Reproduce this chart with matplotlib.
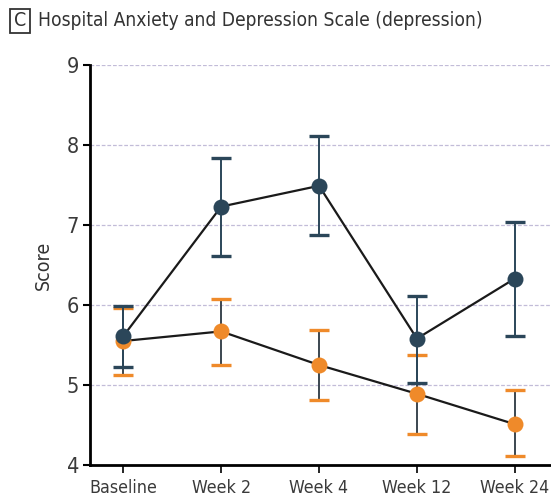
import matplotlib
matplotlib.use("Agg")
import matplotlib.pyplot as plt
from matplotlib import font_manager
from matplotlib.patches import Rectangle

categories = ["Baseline", "Week 2", "Week 4", "Week 12", "Week 24"]

dark_mean = [5.61, 7.23, 7.49, 5.58, 6.33]
dark_low = [5.22, 6.61, 6.87, 5.03, 5.61]
dark_high = [5.99, 7.84, 8.11, 6.11, 7.04]

orange_mean = [5.55, 5.67, 5.25, 4.89, 4.51]
orange_low = [5.13, 5.25, 4.81, 4.39, 4.11]
orange_high = [5.96, 6.07, 5.69, 5.38, 4.94]

y_ticks = [4, 5, 6, 7, 8, 9]

DARK = "#2b4659"
ORANGE = "#ef8a2a"
BAR_GREY = "#3b4650"

# prefer a condensed face when one is available
cond = [f for f in font_manager.fontManager.ttflist
        if "Condensed" in f.fname or f.stretch in ("condensed", "semi-condensed")]
if cond:
    FONT = dict(family=cond[0].name, stretch=cond[0].stretch)
else:
    FONT = dict(family="Liberation Sans")
plt.rcParams["font.family"] = [FONT["family"], "DejaVu Sans"]
if "stretch" in FONT:
    plt.rcParams["font.stretch"] = FONT["stretch"]

fig = plt.figure(figsize=(5.51, 4.96), dpi=100)
ax = fig.add_axes([90 / 551, 1 - 465 / 496, 1 - 90 / 551, (465 - 65) / 496])

x = list(range(len(categories)))

for yv in y_ticks[1:]:
    ax.axhline(yv, color="#c2bcd8", lw=0.9, ls=(0, (3, 1.5)), zorder=0)


def draw_series(means, lows, highs, color, cap_color, bar_color):
    yerr = [[m - l for m, l in zip(means, lows)], [h - m for m, h in zip(means, highs)]]
    eb = ax.errorbar(x, means, yerr=yerr, fmt="none", ecolor=bar_color,
                     elinewidth=1.4, capsize=7, capthick=2.4, zorder=2)
    for cap in eb[1]:
        cap.set_color(cap_color)
        cap.set_markeredgecolor(cap_color)
    ax.plot(x, means, color="#1a1a1a", lw=1.6, zorder=3)
    ax.plot(x, means, "o", color=color, markersize=11.5, markeredgewidth=0, zorder=4)


draw_series(orange_mean, orange_low, orange_high, ORANGE, ORANGE, BAR_GREY)
draw_series(dark_mean, dark_low, dark_high, DARK, DARK, DARK)

ax.set_ylim(4, 9)
ax.set_xlim(-0.34, 4.37)
ax.set_yticks(y_ticks)
ax.set_xticks(x)
ax.set_xticklabels(categories)
ax.set_ylabel("Score", fontsize=14, color="#333333", labelpad=10)

for side in ["top", "right"]:
    ax.spines[side].set_visible(False)
ax.spines["left"].set_linewidth(2)
ax.spines["bottom"].set_linewidth(2)
ax.tick_params(axis="y", direction="out", length=5, width=1.5, labelsize=15.5, pad=3)
ax.tick_params(axis="x", direction="out", length=6, width=1.2, labelsize=12.5, pad=4)
for lab in ax.get_xticklabels() + ax.get_yticklabels():
    lab.set_color("#3a3a3a")

# panel letter box and heading
fig.patches.append(Rectangle((10 / 551, 1 - 33 / 496), 20 / 551, 24 / 496,
                             transform=fig.transFigure, fill=False,
                             edgecolor="#333333", lw=1.3))
fig.text(20 / 551, 1 - 21 / 496, "C", ha="center", va="center", fontsize=14, color="#333333")
title = fig.text(38 / 551, 1 - 21 / 496, "Hospital Anxiety and Depression Scale (depression)",
                 ha="left", va="center", fontsize=15.5, color="#333333")

# fit heading and category labels to their widths
renderer = fig.canvas.get_renderer()
w = title.get_window_extent(renderer).width
title.set_fontsize(15.5 * 445 / w)
lab_w = ax.get_xticklabels()[0].get_window_extent(renderer).width
for lab in ax.get_xticklabels():
    lab.set_fontsize(12.5 * 68 / lab_w)

fig.savefig("out.png", dpi=100)
